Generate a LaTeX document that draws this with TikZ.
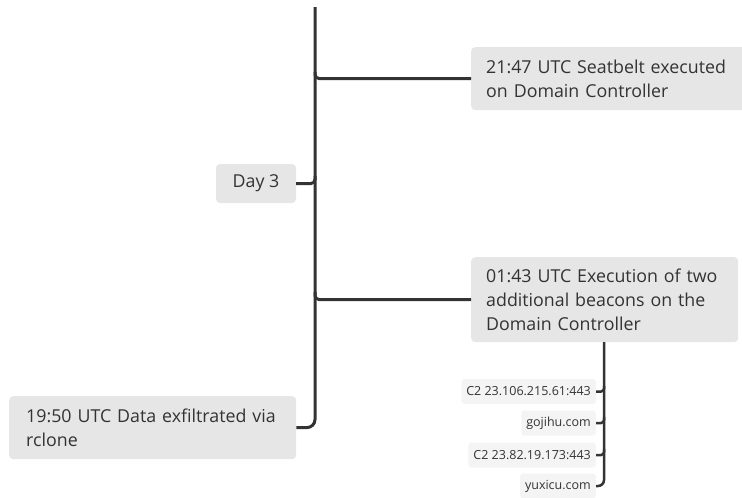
\documentclass[tikz,border=0pt]{standalone}
\usepackage{fontspec}
\setmainfont{Open Sans}
\begin{document}
\begin{tikzpicture}[x=1pt,y=-1pt,
  mainbox/.style={fill=boxgray,rounded corners=4pt,draw=none,text=txt,font=\fontsize{17.8}{24}\selectfont,align=left,inner ysep=0pt},
  subbox/.style={fill=subgray,rounded corners=3pt,draw=none,text=txt,font=\fontsize{12.5}{13}\selectfont,minimum height=25pt,inner xsep=5pt,anchor=east},
  conn/.style={draw=linec,line width=3pt},
  subconn/.style={draw=linec,line width=2.5pt}]
\definecolor{boxgray}{HTML}{E6E6E6}
\definecolor{subgray}{HTML}{F4F4F4}
\definecolor{txt}{HTML}{333333}
\definecolor{linec}{HTML}{333333}
\useasboundingbox (0,0) rectangle (742,498);
\clip (0,0) rectangle (742,498);
% main boxes
\node[mainbox,anchor=north west,minimum width=280pt,minimum height=63pt,text width=250pt,inner xsep=15pt] (e1) at (471,47) {21:47 UTC Seatbelt executed\\on Domain Controller};
\node[mainbox,anchor=north west,minimum width=267pt,minimum height=85pt,text width=237pt,inner xsep=15pt] (e2) at (471,257) {01:43 UTC Execution of two\\additional beacons on the\\Domain Controller};
\node[mainbox,anchor=north west,minimum width=287pt,minimum height=63pt,text width=253pt,inner xsep=17pt] (e3) at (9,396) {19:50 UTC Data exfiltrated via\\rclone};
\node[mainbox,minimum width=80pt,minimum height=39pt,align=center] (d3) at (256,183.5) {Day 3};
% sub boxes
\node[subbox] (s1) at (596,391.5) {C2 23.106.215.61:443};
\node[subbox] (s2) at (596,423) {gojihu.com};
\node[subbox] (s3) at (596,455) {C2 23.82.19.173:443};
\node[subbox] (s4) at (596,486) {yuxicu.com};
% trunk
\coordinate (top) at (315,7);
\draw[conn,rounded corners=8pt] (top) -- (315,427.5) -- (e3.east);
\draw[conn,rounded corners=4pt] (315,72) -- (315,78.5) -- (e1.west);
\draw[conn,rounded corners=4pt] (d3.east) -- (315,183.5) -- (315,176);
\draw[conn,rounded corners=4pt] (315,292) -- (315,299.5) -- (e2.west);
% sub trunk
\coordinate (sb) at (604,342);
\draw[subconn,rounded corners=6pt] (sb) -- (604,486) -- (s4.east);
\draw[subconn,rounded corners=3pt] (s1.east) -- (604,391.5) -- (604,386);
\draw[subconn,rounded corners=3pt] (s2.east) -- (604,423) -- (604,417);
\draw[subconn,rounded corners=3pt] (s3.east) -- (604,455) -- (604,449);
\end{tikzpicture}
\end{document}
